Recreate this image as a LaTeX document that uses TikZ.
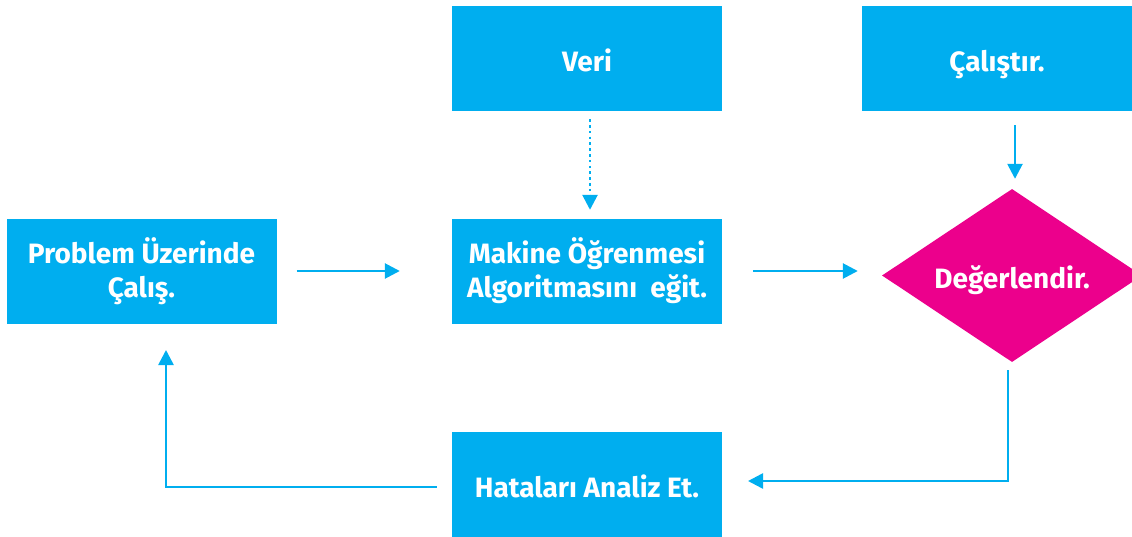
\documentclass[tikz,border=0pt]{standalone}
\usepackage{fontspec}
\setmainfont{Fira Sans}
\usetikzlibrary{arrows.meta,shapes.geometric}
\definecolor{flowblue}{HTML}{00AEEF}
\definecolor{flowpink}{HTML}{EC008C}
\begin{document}
\begin{tikzpicture}[x=1pt,y=-1pt,
  label font/.style={font=\fontsize{28}{33.3}\selectfont\bfseries,
    % uniform struts so every label sits on the same optical centre
    execute at begin node={\rule{0pt}{33.3pt}},
    execute at end node={\rule[-8pt]{0pt}{0pt}}},
  box/.style={fill=flowblue,text=white,minimum width=270pt,minimum height=105pt,
    inner sep=0pt,align=center,label font},
  decide/.style={diamond,fill=flowpink,text=white,minimum width=260pt,minimum height=173pt,
    inner sep=0pt,aspect=1.503,label font},
  arr/.style={draw=flowblue,line width=2.6pt,-{Triangle[length=15pt,width=15pt]}},
  dotarr/.style={arr,dash pattern=on 2.6pt off 3.2pt}]
\useasboundingbox (0,0) rectangle (1132,537);
% boxes and the decision
\node[box] (prob) at (141.5,271.5) {Problem Üzerinde\\Çalış.};
\node[box] (veri) at (587,58.5) {Veri};
\node[box] (ml) at (587,271.5) {Makine Öğrenmesi\\Algoritmasını\ \ eğit.};
\node[box] (run) at (997,58.5) {Çalıştır.};
\node[box] (err) at (587,484.5) {Hataları Analiz Et.};
\node[decide] (eval) at (1012,275.5) {Değerlendir.};
% forward flow
\draw[arr,shorten <=20pt,shorten >=52pt] (prob.east |- 0,271) -- (ml.west |- 0,271);
\draw[arr,shorten <=31pt,shorten >=24pt] (ml.east |- 0,271) -- (eval.west |- 0,271);
\draw[dotarr,shorten <=8pt,shorten >=9pt] (veri.south -| 590,0) -- (ml.north -| 590,0);
\draw[arr,shorten <=14pt,shorten >=10pt] (run.south -| 1015,0) -- (eval.north -| 1015,0);
% feedback loop
\coordinate (errin) at (748,481);
\draw[arr,shorten <=8pt] ([xshift=-4pt]eval.south) |- (errin);
\coordinate (probin) at (166,350);
\draw[arr,shorten <=15pt] (err.west |- 0,487) -| (probin);
\end{tikzpicture}
\end{document}
